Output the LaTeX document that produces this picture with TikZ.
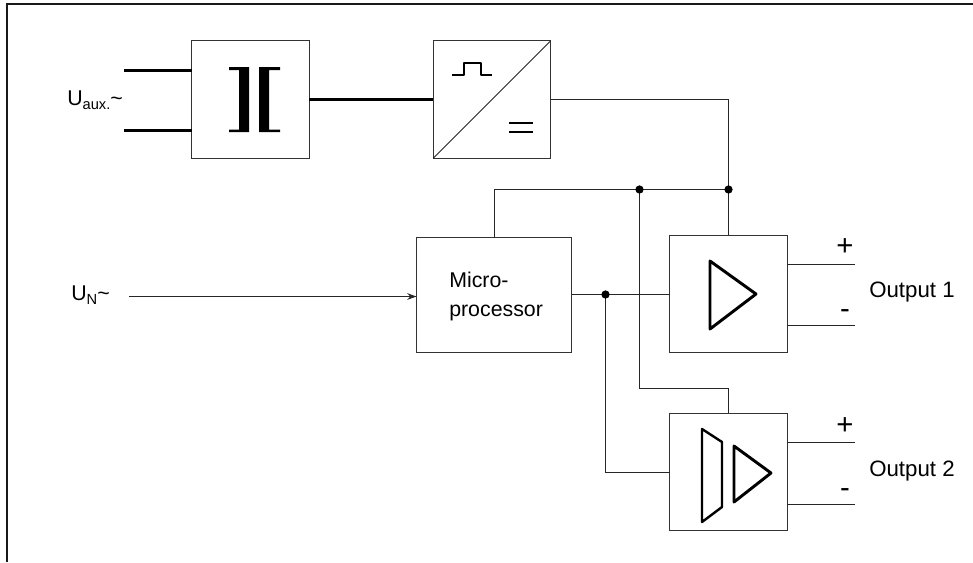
\documentclass[tikz,border=0pt]{standalone}
\usepackage{fontspec}
\setmainfont{Liberation Sans}
\usetikzlibrary{arrows.meta,calc}
\newcommand{\lab}{\fontsize{16}{21}\selectfont}
\newcommand{\subs}[1]{\raisebox{-3.2pt}{\fontsize{11}{12}\selectfont #1}}
\tikzset{
  x=0.75pt,y=-0.75pt,
  blockbox/.style={draw=black!80,line width=0.8pt,inner sep=0,outer sep=0,minimum width=88pt,minimum height=88pt,fill=white},
  wire/.style={draw=black!85,line width=0.75pt},
  heavy/.style={draw=black,line width=2pt},
  symbolline/.style={draw=black,line width=2.2pt,line join=round,line cap=round},
  symbolthin/.style={draw=black,line width=1.5pt,line join=round},
  dotmark/.style={circle,fill=black,inner sep=0,minimum size=6.2pt},
  textlab/.style={anchor=base west,inner sep=0,font=\lab},
  outlab/.style={anchor=base west,inner sep=0,font=\fontsize{16.7}{21}\selectfont},
  signlab/.style={inner sep=0,font=\fontsize{22}{22}\selectfont},
}
\begin{document}
\begin{tikzpicture}
\useasboundingbox (0,0) rectangle (973,562);
% frame
\draw[draw=black!90,line width=1.6pt] (7.3,562) -- (7.3,4.3) -- (973,4.3);
% blocks
\node[blockbox] (trafo) at (250.5,99.5) {};
\node[blockbox] (conv) at (492,99.5) {};
\node[blockbox,minimum width=116.25pt,minimum height=86.25pt] (micro) at (494,295) {};
\node[blockbox] (amp) at (728.5,293.8) {};
\node[blockbox] (ampb) at (728.5,472) {};
% free ends and junctions
\coordinate (auxa) at (124,70.5);
\coordinate (auxb) at (124,130.5);
\coordinate (uin) at (128.5,296.5);
\coordinate (oa) at (855,264.5);
\coordinate (ob) at (855,325.5);
\coordinate (oc) at (855,442.5);
\coordinate (od) at (855,504.5);
\coordinate (j1) at (639.5,189.5);
\coordinate (j2) at (728.5,189.5);
\coordinate (j3) at (605.5,294.5);
% connectors
\draw[heavy] (auxa) -- (auxa -| trafo.west);
\draw[heavy] (auxb) -- (auxb -| trafo.west);
\draw[heavy] (trafo.east) -- (conv.west);
\draw[wire] (conv.east) -| (j2);
\draw[wire] (j2) -- (amp.north);
\draw[wire] (micro.north |- j1) -- (j2);
\draw[wire] (micro.north) -- (micro.north |- j1);
\draw[wire] (j1) -- (639.5,388.5) -- (728.5,388.5) -- (ampb.north);
\draw[wire] (micro.east |- j3) -- (amp.west |- j3);
\draw[wire] (j3) |- (ampb.west);
\draw[wire,-{Stealth[length=7pt,width=5pt]}] (uin) -- (uin -| micro.west);
\draw[wire] (amp.east |- oa) -- (oa);
\draw[wire] (amp.east |- ob) -- (ob);
\draw[wire] (ampb.east |- oc) -- (oc);
\draw[wire] (ampb.east |- od) -- (od);
\node[dotmark] (d1) at (j1) {};
\node[dotmark] (d2) at (j2) {};
\node[dotmark] (d3) at (j3) {};
% transformer symbol
\fill (229,67) rectangle (249,70) (239,67) rectangle (249,132) (229,129.5) rectangle (249,132);
\fill (259,67) rectangle (280,70) (259,67) rectangle (269,132) (259,129.5) rectangle (280,132);
% converter symbol
\draw[wire] (conv.south west) -- (conv.north east);
\draw[symbolthin] (452,74.5) -- (464,74.5) -- (464,62.5) -- (481,62.5) -- (481,74.5) -- (492,74.5);
\draw[symbolthin] (509,122.5) -- (533,122.5);
\draw[symbolthin] (509,132) -- (533,132);
% amplifier symbols
\draw[symbolline] (710,261) -- (756,294) -- (710,329) -- cycle;
\draw[symbolline] (734,446) -- (771,473) -- (734,502) -- cycle;
\draw[symbolline,line width=1.8pt] (702,429) -- (722,442) -- (722,507) -- (702,522) -- cycle;
% labels
\node[textlab] (tn) at (71,300.5) {U\subs{N}\textasciitilde};
\node[textlab] (ta) at (67,105) {U\subs{aux.}\textasciitilde};
\node[textlab] (tm) at (449,287) {Micro-};
\node[textlab] (tp) at (449,316) {processor};
\node[outlab] (t1) at (869,297) {Output 1};
\node[outlab] (t2) at (869,476) {Output 2};
\node[signlab] (p1) at (845,247) {+};
\node[signlab] (m1) at (845,314.5) {-};
\node[signlab] (p2) at (845,426) {+};
\node[signlab] (m2) at (845,493.5) {-};
\end{tikzpicture}
\end{document}
